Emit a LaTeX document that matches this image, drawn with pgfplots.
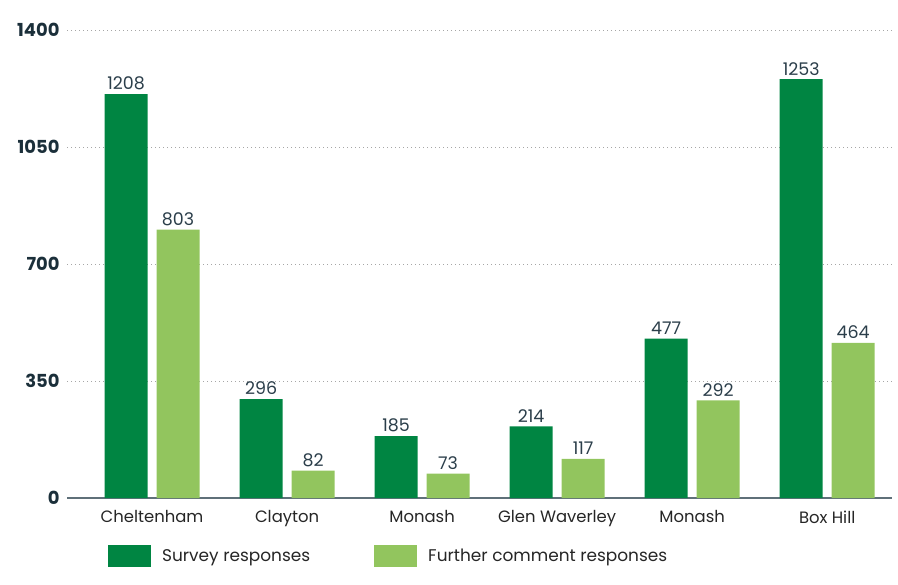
\documentclass[border=0pt]{standalone}
\usepackage{pgfplots}
\pgfplotsset{compat=1.18}
\usepackage{fontspec}
\setmainfont{Poppins}
\usetikzlibrary{calc}
\definecolor{dkgreen}{HTML}{008542}
\definecolor{ltgreen}{HTML}{92C55E}
\definecolor{navy}{HTML}{1B2F3A}
\definecolor{valcol}{HTML}{2B3E4A}
\definecolor{axiscol}{HTML}{5F7079}
\begin{document}
\begin{tikzpicture}
\begin{axis}[
  scale only axis,
  width=825bp, height=468bp,
  xmin=-0.63, xmax=5.48,
  ymin=0, ymax=1400,
  ytick={0,350,700,1050,1400},
  xtick={0,1,2,3,4,5},
  xticklabels={Cheltenham,Clayton,Monash,Glen Waverley,Monash,Box Hill},
  ybar=9bp, bar width=43bp,
  axis x line*=bottom, axis y line*=left,
  y axis line style={draw=none},
  x axis line style={draw=axiscol, line width=1.5bp},
  major tick length=0pt,
  ymajorgrids,
  grid style={dash pattern=on 0.8bp off 3.2bp, gray!70, line width=0.8bp},
  /pgf/number format/assume math mode=true,
  /pgf/number format/set thousands separator={},
  yticklabel style={font=\fontsize{18}{18}\selectfont\bfseries, text=navy, xshift=-4bp},
  xticklabel style={font=\fontsize{16.5}{16.5}\selectfont, text=black!85, yshift=-9bp},
  nodes near coords,
  nodes near coords style={font=\fontsize{17.5}{17.5}\selectfont, text=valcol, yshift=0.5bp},
  legend columns=2,
  legend style={draw=none, at={(0.046,-0.124)}, anchor=west,
    font=\fontsize{17}{17}\selectfont, text=black!85,
    /tikz/every odd column/.append style={column sep=9bp},
    /tikz/every even column/.append style={column sep=62bp}},
  legend image code/.code={\path[fill] (0bp,-11bp) rectangle (43bp,11bp);},
]
\addplot[fill=dkgreen, draw=none] coordinates {(0,1208) (1,296) (2,185) (3,214) (4,477) (5,1253)};
\addplot[fill=ltgreen, draw=none] coordinates {(0,803) (1,82) (2,73) (3,117) (4,292) (5,464)};
\legend{Survey responses, Further comment responses}
\end{axis}
\pgfresetboundingbox
\path[use as bounding box] ($(current axis.south west)+(-67bp,-87bp)$) rectangle ($(current axis.north east)+(6bp,30bp)$);
\end{tikzpicture}
\end{document}
